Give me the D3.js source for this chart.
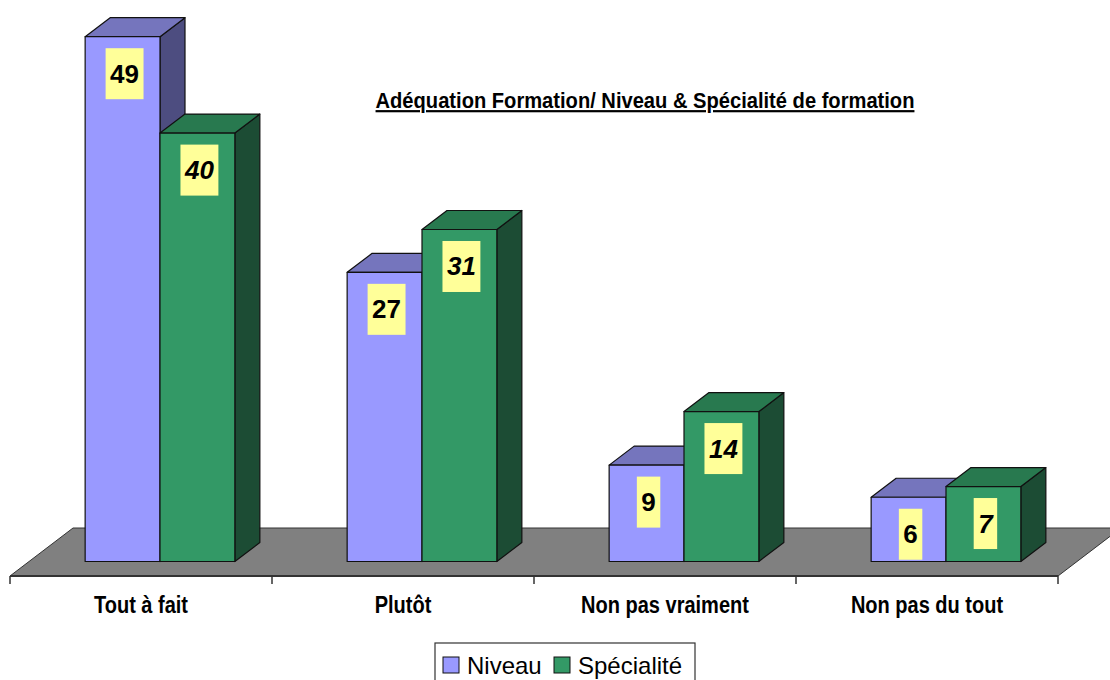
<!DOCTYPE html>
<html>
<head>
<meta charset="utf-8">
<script src="https://cdn.jsdelivr.net/npm/d3@7"></script>
<style>
  body { margin: 0; background: #fff; }
  svg { display: block; }
  .narrow { font-family: "Liberation Sans", Arial, sans-serif; font-weight: bold; }
</style>
</head>
<body>
<script>
// donnees du graphique
var categories = ["Tout à fait", "Plutôt", "Non pas vraiment", "Non pas du tout"];
var series = ["Niveau", "Spécialité"];
var niveau = [49, 27, 9, 6];
var specialite = [40, 31, 14, 7];
var title = "Adéquation Formation/ Niveau & Spécialité de formation";

var colors = {
  "Niveau":     {front: "#9999ff", top: "#7575bd", side: "#4d4d80"},
  "Spécialité": {front: "#339966", top: "#28794f", side: "#1c4c34"}
};

var W = 1110, H = 680;
var floorDepth = [63, -48],   // vecteur profondeur du sol
    barDepth = [25, -19];     // vecteur profondeur des barres
var shift = [(floorDepth[0] - barDepth[0]) / 2, (floorDepth[1] - barDepth[1]) / 2];

var svg = d3.select("body").append("svg")
    .attr("width", W)
    .attr("height", H);

// echelle du bord avant du sol
var x = d3.scaleBand().domain(categories).range([10, 1058]);
// echelle du plan avant des barres
var x0 = d3.scaleBand().domain(categories).range([10 + shift[0], 1058 + shift[0]]);
var x1 = d3.scaleBand().domain(series).range([0, x0.bandwidth()]).paddingOuter(0.75);

var floorY = 576;
var base = floorY + shift[1];
var y = d3.scaleLinear().domain([0, 50]).range([base, base - 535.5]);

// sol gris
var fx0 = x.range()[0], fx1 = x.range()[1];
svg.append("path")
    .attr("d", "M" + fx0 + "," + floorY + "L" + fx1 + "," + floorY +
       "L" + (fx1 + floorDepth[0]) + "," + (floorY + floorDepth[1]) +
       "L" + (fx0 + floorDepth[0]) + "," + (floorY + floorDepth[1]) + "Z")
    .attr("fill", "#808080")
    .attr("stroke", "#333")
    .attr("stroke-width", 1);

// axe
svg.append("line")
    .attr("x1", fx0).attr("x2", fx1)
    .attr("y1", floorY).attr("y2", floorY)
    .attr("stroke", "#333").attr("stroke-width", 2);

var bounds = categories.map(function(c) { return x(c); }).concat([fx1]);
svg.selectAll(".tick-b").data(bounds).enter().append("line")
    .attr("x1", function(d) { return d; }).attr("x2", function(d) { return d; })
    .attr("y1", floorY).attr("y2", floorY + 8)
    .attr("stroke", "#333").attr("stroke-width", 1.5);

var axis = svg.append("g")
    .attr("transform", "translate(0," + floorY + ")")
    .call(d3.axisBottom(x).tickSize(0).tickPadding(21));
axis.select(".domain").remove();
axis.selectAll("text")
    .attr("class", "narrow")
    .attr("font-size", 23)
    .attr("fill", "#000")
    .attr("transform", "scale(0.87,1)");

// barres 3D
var rows = [];
categories.forEach(function(c, i) {
  rows.push({cat: c, s: "Niveau", v: niveau[i]});
  rows.push({cat: c, s: "Spécialité", v: specialite[i]});
});

var dx = barDepth[0], dy = barDepth[1];
var bars = svg.selectAll(".bar").data(rows).enter().append("g").attr("class", "bar");

bars.each(function(d) {
  var g = d3.select(this);
  var l = x0(d.cat) + x1(d.s), r = l + x1.bandwidth();
  var t = y(d.v), b = y(0);
  var col = colors[d.s];
  g.append("path")
      .attr("d", "M" + r + "," + t + "L" + (r + dx) + "," + (t + dy) + "L" + (r + dx) + "," + (b + dy) + "L" + r + "," + b + "Z")
      .attr("fill", col.side);
  g.append("path")
      .attr("d", "M" + l + "," + t + "L" + (l + dx) + "," + (t + dy) + "L" + (r + dx) + "," + (t + dy) + "L" + r + "," + t + "Z")
      .attr("fill", col.top);
  g.append("rect")
      .attr("x", l).attr("y", t)
      .attr("width", r - l).attr("height", b - t)
      .attr("fill", col.front);
  g.selectAll("path, rect")
      .attr("stroke", "#111").attr("stroke-width", 1.2).attr("stroke-linejoin", "round");

  // etiquette de valeur
  var cx = (l + r) / 2 + 2, cy = t + 37;
  var box = g.append("rect").attr("fill", "#ffff99");
  var txt = g.append("text")
      .attr("x", cx).attr("y", cy)
      .attr("text-anchor", "middle")
      .attr("dominant-baseline", "central")
      .attr("font-family", "Liberation Sans, Arial, sans-serif")
      .attr("font-weight", "bold")
      .attr("font-style", d.s === "Spécialité" ? "italic" : "normal")
      .attr("font-size", 26)
      .text(d.v);
  var w = txt.node().getComputedTextLength() + 9;
  box.attr("x", cx - w / 2).attr("y", cy - 25.5).attr("width", w).attr("height", 51);
});

// titre
svg.append("text")
    .attr("class", "narrow")
    .attr("transform", "translate(645,108) scale(0.915,1)")
    .attr("text-anchor", "middle")
    .attr("font-size", 22)
    .attr("text-decoration", "underline")
    .text(title);

// legende
var leg = svg.append("g").attr("transform", "translate(435,643)");
leg.append("rect")
    .attr("x", 0).attr("y", 0).attr("width", 260).attr("height", 50)
    .attr("fill", "#fff").attr("stroke", "#333").attr("stroke-width", 1.2);
var lx = [8, 119];
series.forEach(function(s, i) {
  leg.append("rect")
      .attr("x", lx[i]).attr("y", 14).attr("width", 16).attr("height", 16)
      .attr("fill", colors[s].front).attr("stroke", "#111");
  leg.append("text")
      .attr("x", lx[i] + 24).attr("y", 31)
      .attr("font-family", "Liberation Sans, Arial, sans-serif")
      .attr("font-size", 24)
      .text(s);
});
</script>
</body>
</html>
